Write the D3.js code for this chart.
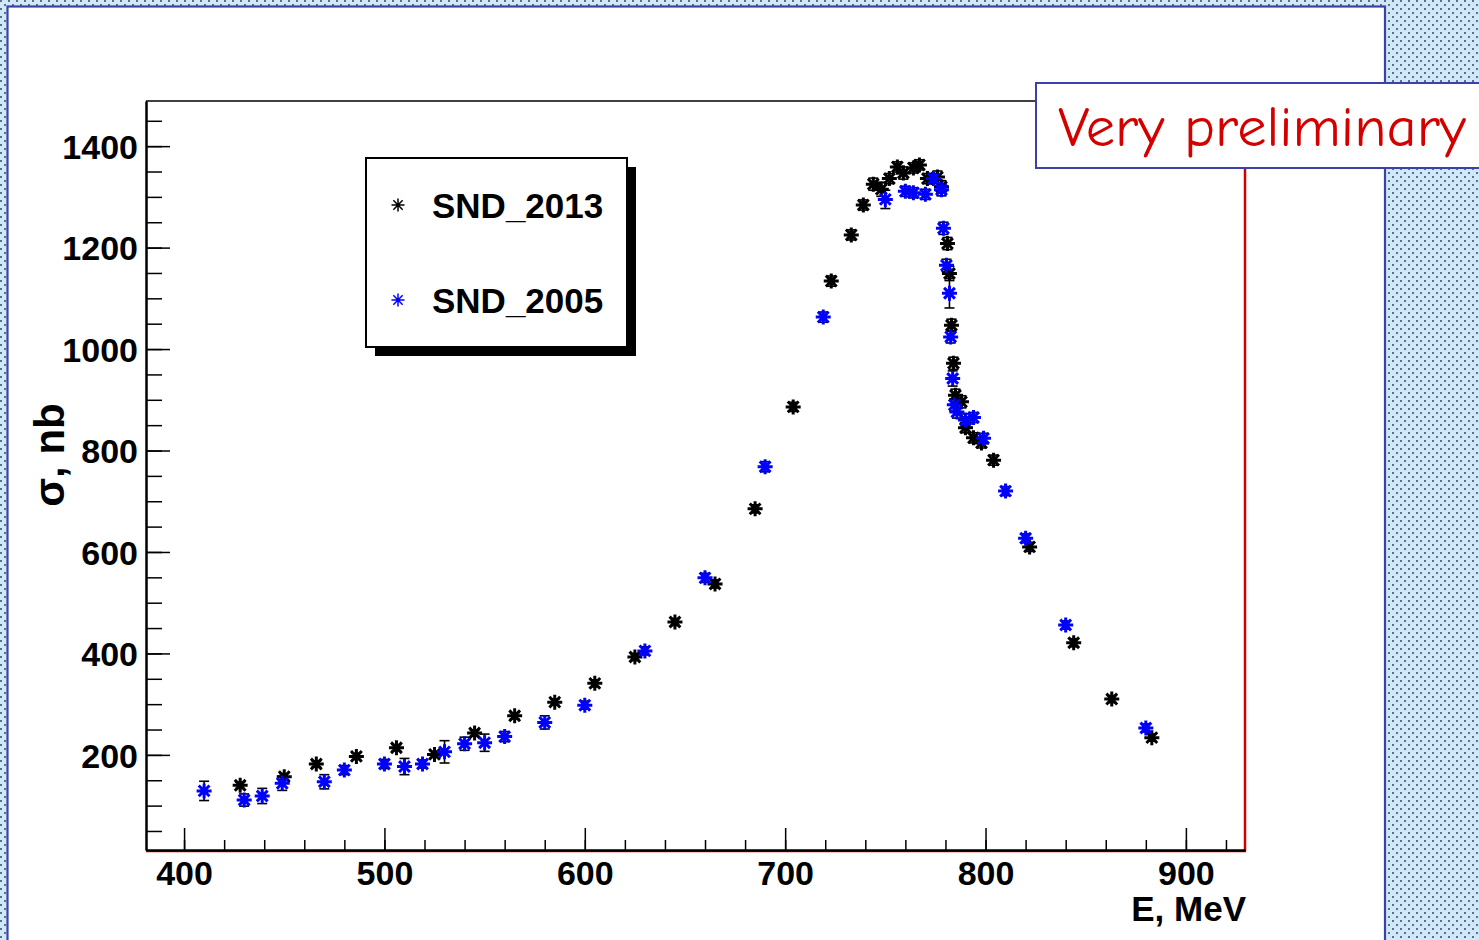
<!DOCTYPE html>
<html>
<head>
<meta charset="utf-8">
<script src="https://cdn.jsdelivr.net/npm/d3@7"></script>
<style>
  html, body { margin: 0; padding: 0; background: #fff; }
  svg { display: block; }
</style>
</head>
<body>
<svg id="chart" width="1479" height="940"></svg>
<script>
// SND 2013 measurement: energy (MeV), cross section (nb), uncertainty (nb)
const e2013 = [428, 450, 466, 486, 506, 525, 545, 565, 585, 605, 625, 645, 665, 685, 704, 723, 733, 739, 744, 748, 752, 756, 759, 764, 767, 771, 776, 778, 781, 782, 783, 784, 785, 788, 790, 794, 798, 804, 822, 844, 863, 883];
const s2013 = [140, 157, 182, 197, 214, 201, 243, 277, 304, 341, 393, 462, 537, 685, 886, 1134, 1225, 1284, 1325, 1315, 1336, 1359, 1347, 1357, 1363, 1336, 1339, 1320, 1208, 1149, 1047, 972, 909, 896, 845, 825, 815, 781, 610, 421, 310, 234];
const err2013 = [6, 6, 6, 6, 6, 6, 6, 6, 6, 7, 7, 7, 8, 8, 9, 10, 10, 10, 12, 14, 10, 10, 12, 10, 10, 10, 12, 12, 12, 14, 12, 12, 12, 12, 10, 10, 10, 10, 9, 8, 7, 7];

// SND 2005 measurement
const e2005 = [410, 430, 439, 449, 470, 480, 500, 510, 519, 530, 540, 550, 560, 580, 600, 630, 660, 690, 719, 750, 760, 764, 770, 774, 778, 779, 780.5, 782, 782.6, 783.6, 784.4, 785.7, 790, 794, 799, 810, 820, 840, 880];
const s2005 = [129, 111, 119, 144, 147, 170, 182, 177, 182, 206, 222, 224, 236, 264, 298, 405, 549, 768, 1063, 1295, 1311, 1308, 1305, 1336, 1314, 1238, 1165, 1110, 1024, 942, 890, 876, 860, 865, 824, 720, 627, 456, 253];
const err2005 = [19, 12, 15, 14, 14, 9, 9, 16, 8, 22, 13, 17, 10, 13, 8, 8, 9, 10, 10, 18, 10, 10, 10, 10, 12, 12, 12, 29, 12, 15, 12, 12, 12, 10, 10, 9, 9, 8, 8];

const xTicks = [400, 500, 600, 700, 800, 900];
const yTicks = [200, 400, 600, 800, 1000, 1200, 1400];
const seriesNames = ["SND_2013", "SND_2005"];
const xTitle = "E, MeV";
const yTitle = "σ, nb";
const stamp = "Very preliminary";

const svg = d3.select("#chart");
const W = 1479, H = 940;
const plot = { left: 146, right: 1245, top: 101, bottom: 850 };

// dotted canvas background
const defs = svg.append("defs");
const pat = defs.append("pattern")
  .attr("id", "dots").attr("patternUnits", "userSpaceOnUse")
  .attr("width", 8).attr("height", 8);
pat.append("rect").attr("width", 8).attr("height", 8).attr("fill", "#cfe9fb");
pat.append("rect").attr("x", 0).attr("y", 0).attr("width", 2).attr("height", 2).attr("fill", "#5f7180");
pat.append("rect").attr("x", 4).attr("y", 4).attr("width", 2).attr("height", 2).attr("fill", "#5f7180");
svg.append("rect").attr("width", W).attr("height", H).attr("fill", "url(#dots)");

// white pad
svg.append("rect")
  .attr("x", 7.5).attr("y", 6.5).attr("width", 1377.5).attr("height", 960)
  .attr("fill", "#fff").attr("stroke", "#3b41a8").attr("stroke-width", 2.2);

const x = d3.scaleLinear().domain([381, 929.5]).range([plot.left, plot.right]);
const y = d3.scaleLinear().domain([12.5, 1489]).range([plot.bottom, plot.top]);

// frame
svg.append("line").attr("x1", plot.right).attr("x2", plot.right)
  .attr("y1", plot.top).attr("y2", plot.bottom + 1.5)
  .attr("stroke", "#d00000").attr("stroke-width", 2.5);
svg.append("line").attr("x1", plot.left).attr("x2", plot.right + 1)
  .attr("y1", plot.bottom + 1.5).attr("y2", plot.bottom + 1.5)
  .attr("stroke", "#d00000").attr("stroke-width", 1.5);
svg.append("line").attr("x1", plot.left).attr("x2", plot.right)
  .attr("y1", plot.top).attr("y2", plot.top)
  .attr("stroke", "#000").attr("stroke-width", 1.5);

const labelFont = "'Liberation Sans', Arial, Helvetica, sans-serif";

// x axis: major and minor ticks
const xMinor = d3.range(400, 930, 20);
const gxMinor = svg.append("g").attr("transform", `translate(0,${plot.bottom})`)
  .call(d3.axisTop(x).tickValues(xMinor).tickSize(10).tickSizeOuter(0).tickFormat(""));
const gx = svg.append("g").attr("transform", `translate(0,${plot.bottom})`)
  .call(d3.axisTop(x).tickValues(xTicks).tickSize(22).tickSizeOuter(0).tickFormat(d3.format("d")));
[gxMinor, gx].forEach(g => {
  g.selectAll(".tick line").attr("stroke", "#000").attr("stroke-width", 1.5);
  g.select(".domain").attr("stroke", "#000").attr("stroke-width", 2);
});
gx.selectAll(".tick text")
  .attr("y", 35).attr("dy", 0)
  .style("font-family", labelFont).style("font-weight", "bold")
  .style("font-size", "34px").attr("fill", "#000");

// y axis
const yMinor = d3.range(50, 1489, 50);
const gyMinor = svg.append("g").attr("transform", `translate(${plot.left},0)`)
  .call(d3.axisRight(y).tickValues(yMinor).tickSize(16).tickSizeOuter(0).tickFormat(""));
const gy = svg.append("g").attr("transform", `translate(${plot.left},0)`)
  .call(d3.axisRight(y).tickValues(yTicks).tickSize(24).tickSizeOuter(0).tickFormat(d3.format("d")));
[gyMinor, gy].forEach(g => {
  g.selectAll(".tick line").attr("stroke", "#000").attr("stroke-width", 1.5);
  g.select(".domain").attr("stroke", "#000").attr("stroke-width", 2);
});
gy.selectAll(".tick text")
  .attr("x", -8).attr("dy", "0.36em").attr("text-anchor", "end")
  .style("font-family", labelFont).style("font-weight", "bold")
  .style("font-size", "34px").attr("fill", "#000");

// axis titles
svg.append("text")
  .attr("x", plot.right + 1).attr("y", 921).attr("text-anchor", "end")
  .style("font-family", labelFont).style("font-weight", "bold").style("font-size", "35px")
  .text(xTitle);
svg.append("text")
  .attr("transform", `translate(64,455) rotate(-90)`).attr("text-anchor", "middle")
  .style("font-family", labelFont).style("font-weight", "bold").style("font-size", "42px")
  .text(yTitle);

// asterisk marker (horizontal, vertical and two diagonal strokes)
function starPath(r) {
  const d = r * 0.72;
  return `M${-r},0L${r},0M0,${-r}L0,${r}M${-d},${-d}L${d},${d}M${-d},${d}L${d},${-d}`;
}

function drawSeries(es, ss, errs, color) {
  const pts = es.map((e, i) => ({ e, s: ss[i], err: errs[i] }));
  const g = svg.append("g");
  const eb = g.append("g").attr("stroke", "#000").attr("stroke-width", 1.6).attr("fill", "none");
  pts.forEach(p => {
    const cx = x(p.e), y1 = y(p.s + p.err), y2 = y(p.s - p.err);
    eb.append("line").attr("x1", cx).attr("x2", cx).attr("y1", y1).attr("y2", y2);
    eb.append("line").attr("x1", cx - 5).attr("x2", cx + 5).attr("y1", y1).attr("y2", y1);
    eb.append("line").attr("x1", cx - 5).attr("x2", cx + 5).attr("y1", y2).attr("y2", y2);
  });
  g.append("g").selectAll("path").data(pts).join("path")
    .attr("d", starPath(7.5))
    .attr("transform", p => `translate(${x(p.e)},${y(p.s)})`)
    .attr("stroke", color).attr("stroke-width", 3).attr("fill", "none");
}

drawSeries(e2013, s2013, err2013, "#000");
drawSeries(e2005, s2005, err2005, "#0000ff");

// legend with drop shadow
const lg = { x: 366, y: 158, w: 261, h: 189 };
svg.append("rect").attr("x", lg.x + 9).attr("y", lg.y + 9).attr("width", lg.w).attr("height", lg.h).attr("fill", "#000");
svg.append("rect").attr("x", lg.x).attr("y", lg.y).attr("width", lg.w).attr("height", lg.h)
  .attr("fill", "#fff").attr("stroke", "#000").attr("stroke-width", 2);
const legendColors = ["#000", "#0000ff"];
seriesNames.forEach((name, i) => {
  const cy = 205 + i * 95;
  svg.append("path").attr("d", starPath(6.5)).attr("transform", `translate(398,${cy})`)
    .attr("stroke", legendColors[i]).attr("stroke-width", 1.5).attr("fill", "none");
  svg.append("text").attr("x", 432).attr("y", cy + 13)
    .style("font-family", labelFont).style("font-weight", "bold").style("font-size", "35px")
    .text(name);
});

// stamp box
svg.append("rect").attr("x", 1036).attr("y", 83).attr("width", 470).attr("height", 85)
  .attr("fill", "#fff").attr("stroke", "#3b41a8").attr("stroke-width", 2);
svg.append("text").attr("x", 1058).attr("y", 146)
  .attr("textLength", 408).attr("lengthAdjust", "spacingAndGlyphs")
  .style("font-family", "'Comic Sans MS', 'Comic Neue', 'Noto Sans', sans-serif")
  .style("font-size", "56px").attr("fill", "#d40000")
  .text(stamp);
</script>
</body>
</html>
